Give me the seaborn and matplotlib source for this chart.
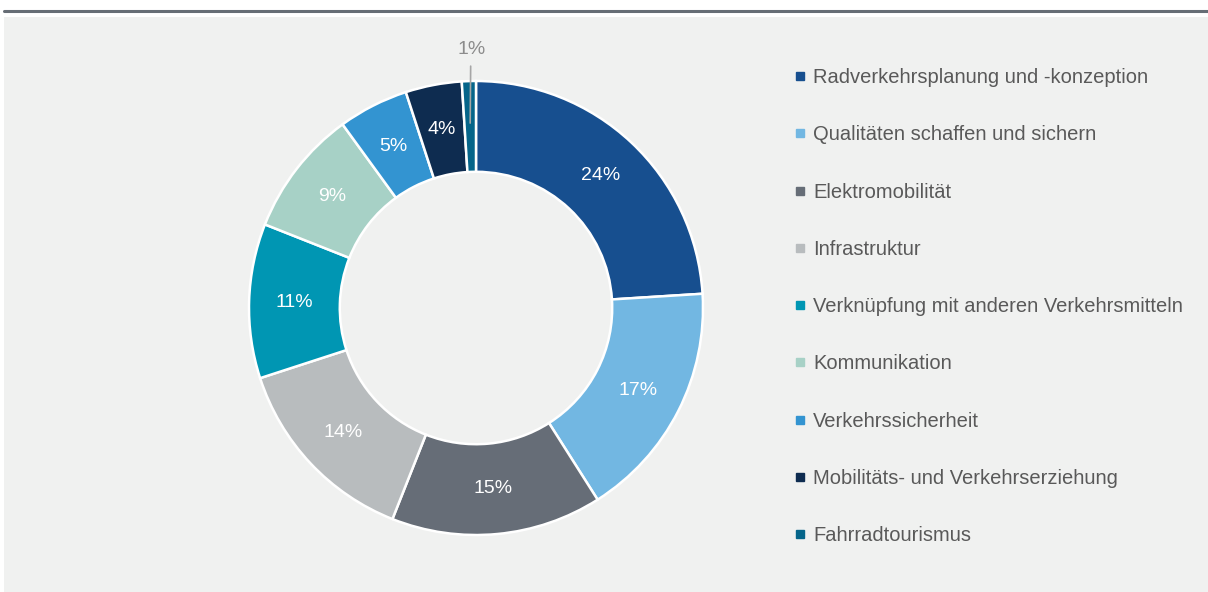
import matplotlib.pyplot as plt
from matplotlib.lines import Line2D
from matplotlib.patches import Rectangle
import seaborn as sns
import numpy as np

categories = ['Radverkehrsplanung und -konzeption', 'Qualitäten schaffen und sichern',
              'Elektromobilität', 'Infrastruktur', 'Verknüpfung mit anderen Verkehrsmitteln',
              'Kommunikation', 'Verkehrssicherheit', 'Mobilitäts- und Verkehrserziehung',
              'Fahrradtourismus']
shares = [24, 17, 15, 14, 11, 9, 5, 4, 1]
colors = ['#174f8f', '#72b7e2', '#666d77', '#b8bcbe', '#0096b3',
          '#a7d1c6', '#3394d1', '#0e2c50', '#05658a']

sns.set_theme(style='white')
plt.rcParams['font.family'] = ['Liberation Sans', 'DejaVu Sans']

W, H = 1208, 592
fig = plt.figure(figsize=(W / 100, H / 100), dpi=100, facecolor='white')

# grey panel and rule on top
fig.patches.append(Rectangle((4 / W, 0), 1, 1 - 17 / H, transform=fig.transFigure,
                             facecolor='#f0f1f0', edgecolor='none', zorder=-5))
fig.add_artist(Line2D([4 / W, 1], [1 - 11 / H, 1 - 11 / H], transform=fig.transFigure,
                      color='#666d75', lw=2.2))

cx, cy, r = 476, 308, 227
ax = fig.add_axes([(cx - r) / W, (H - cy - r) / H, 2 * r / W, 2 * r / H])
ax.set_zorder(2)
ax.set_facecolor('none')
wedges, _ = ax.pie(shares, colors=colors, startangle=90, counterclock=False,
                   radius=1, wedgeprops=dict(width=0.4, edgecolor='white', linewidth=1.8))
ax.set_xlim(-1, 1)
ax.set_ylim(-1, 1)
ax.axis('off')

for w, val in zip(wedges, shares):
    ang = np.deg2rad((w.theta1 + w.theta2) / 2)
    if val >= 3:
        ax.text(0.8 * np.cos(ang), 0.8 * np.sin(ang), f'{val}%', color='white',
                fontsize=14, ha='center', va='center')
    else:
        ax.plot([0.815 * np.cos(ang), 1.066 * np.cos(ang) + 0.01],
                [0.815 * np.sin(ang), 1.066 * np.sin(ang)], color='#a6a6a6', lw=1.2,
                clip_on=False)
        ax.text(1.14 * np.cos(ang) + 0.015, 1.14 * np.sin(ang), f'{val}%', color='#8c8c8c',
                fontsize=14, ha='center', va='center', clip_on=False)

handles = [Line2D([], [], marker='s', ls='none', markersize=6, color=c) for c in colors]
fig.legend(handles, categories, loc='upper left', bbox_to_anchor=(787 / W, 1 - 60 / H),
           frameon=False, fontsize=14.5, labelcolor='#595959', labelspacing=1.9,
           handlelength=0.5, handletextpad=0.4, borderaxespad=0)

fig.savefig('out.png', dpi=100, facecolor='white')
